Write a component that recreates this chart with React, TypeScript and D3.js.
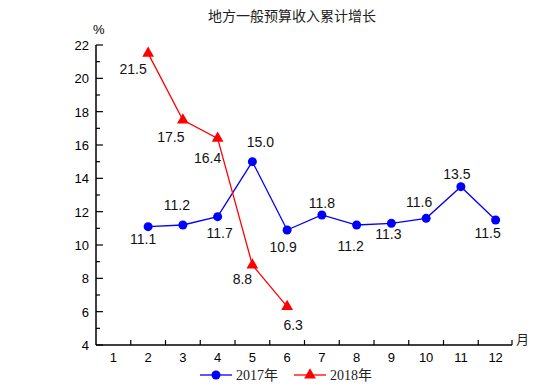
import React, { useRef, useEffect } from "react";
import * as d3 from "d3";

const months = ["1", "2", "3", "4", "5", "6", "7", "8", "9", "10", "11", "12"];
const months2017 = ["2", "3", "4", "5", "6", "7", "8", "9", "10", "11", "12"];
const values2017 = [11.1, 11.2, 11.7, 15.0, 10.9, 11.8, 11.2, 11.3, 11.6, 13.5, 11.5];
const months2018 = ["2", "3", "4", "5", "6"];
const values2018 = [21.5, 17.5, 16.4, 8.8, 6.3];
const yTicks = [4, 6, 8, 10, 12, 14, 16, 18, 20, 22];

// label offsets (dx, dy) relative to each point, as in the original figure
const offsets2017 = [[-5, 12], [-6, -20], [2, 16], [8, -20], [-4, 17], [0, -12], [-6, 21], [-3, 11], [-7, -16], [-4, -13], [-8, 13]];
const offsets2018 = [[-15, 16], [-12, 17], [-10, 20], [-10, 14], [6, 18]];

export default function App() {
  const svgRef = useRef<SVGSVGElement>(null);

  useEffect(() => {
    const svg = d3.select(svgRef.current);
    svg.selectAll("*").remove();

    const left = 96, right = 513, top = 45, bottom = 345;
    const x = d3.scaleBand().domain(months).range([left, right]);
    const y = d3.scaleLinear().domain([4, 22]).range([bottom, top]);
    const cx = (m: string) => (x(m) as number) + x.bandwidth() / 2;

    // title
    svg.append("text")
      .attr("x", 292).attr("y", 21)
      .attr("text-anchor", "middle")
      .attr("font-family", "Noto Sans CJK SC")
      .attr("font-size", 14)
      .attr("fill", "#222")
      .text("地方一般预算收入累计增长");

    // y axis
    const g = svg.append("g");
    g.append("line").attr("x1", left).attr("x2", left).attr("y1", top).attr("y2", bottom)
      .attr("stroke", "#000").attr("stroke-width", 1.5);
    d3.range(4, 23, 1).forEach((v) => {
      const major = v % 2 === 0;
      g.append("line").attr("x1", left).attr("x2", left + (major ? 7 : 4))
        .attr("y1", y(v)).attr("y2", y(v)).attr("stroke", "#000").attr("stroke-width", 1.2);
    });
    g.selectAll(".yl").data(yTicks).enter().append("text")
      .attr("x", left - 7).attr("y", (d) => y(d) + 5)
      .attr("text-anchor", "end")
      .attr("font-family", "Liberation Sans, Arial")
      .attr("font-size", 13)
      .text((d) => d);
    g.append("text").attr("x", 93).attr("y", 34)
      .attr("font-family", "Liberation Sans, Arial").attr("font-size", 13).text("%");

    // x axis
    g.append("line").attr("x1", left).attr("x2", right - 1).attr("y1", bottom).attr("y2", bottom)
      .attr("stroke", "#000").attr("stroke-width", 1.5);
    months.slice(1).forEach((m) => {
      g.append("line").attr("x1", x(m) as number).attr("x2", x(m) as number)
        .attr("y1", bottom).attr("y2", bottom - 5).attr("stroke", "#000").attr("stroke-width", 1.2);
    });
    g.append("line").attr("x1", right - 1).attr("x2", right - 1)
      .attr("y1", bottom).attr("y2", bottom - 5).attr("stroke", "#000").attr("stroke-width", 1.2);
    g.selectAll(".xl").data(months).enter().append("text")
      .attr("x", (d) => cx(d)).attr("y", bottom + 17)
      .attr("text-anchor", "middle")
      .attr("font-family", "Liberation Sans, Arial")
      .attr("font-size", 13)
      .text((d) => d);
    g.append("text").attr("x", 516).attr("y", 344)
      .attr("font-family", "Noto Sans CJK SC").attr("font-size", 13).attr("fill", "#222").text("月");

    const line = d3.line<[string, number]>().x((d) => cx(d[0])).y((d) => y(d[1]));
    const tri = d3.symbol().type(d3.symbolTriangle).size(60);

    // 2017 series
    const d17 = months2017.map((m, i) => [m, values2017[i]] as [string, number]);
    svg.append("path").attr("d", line(d17)).attr("fill", "none").attr("stroke", "#0000ff").attr("stroke-width", 1.3);
    svg.selectAll(".p17").data(d17).enter().append("circle")
      .attr("cx", (d) => cx(d[0])).attr("cy", (d) => y(d[1])).attr("r", 4.5).attr("fill", "#0000ff");

    // 2018 series
    const d18 = months2018.map((m, i) => [m, values2018[i]] as [string, number]);
    svg.append("path").attr("d", line(d18)).attr("fill", "none").attr("stroke", "#ff0000").attr("stroke-width", 1.3);
    svg.selectAll(".p18").data(d18).enter().append("path")
      .attr("d", tri).attr("transform", (d) => `translate(${cx(d[0])},${y(d[1])})`).attr("fill", "#ff0000");

    // value labels
    const addLabels = (data: [string, number][], offs: number[][]) => {
      svg.append("g").selectAll("text").data(data).enter().append("text")
        .attr("x", (d, i) => cx(d[0]) + offs[i][0])
        .attr("y", (d, i) => y(d[1]) + offs[i][1] + 5)
        .attr("text-anchor", "middle")
        .attr("font-family", "Liberation Sans, Arial")
        .attr("font-size", 14)
        .attr("fill", "#111")
        .text((d) => d[1].toFixed(1));
    };
    addLabels(d17, offsets2017);
    addLabels(d18, offsets2018);

    // legend
    const legendFont = "Liberation Serif, Noto Sans CJK SC";
    const lg = svg.append("g");
    lg.append("line").attr("x1", 200).attr("x2", 232).attr("y1", 375).attr("y2", 375).attr("stroke", "#0000ff").attr("stroke-width", 1.3);
    lg.append("circle").attr("cx", 216).attr("cy", 375).attr("r", 4.5).attr("fill", "#0000ff");
    lg.append("text").attr("x", 236).attr("y", 380).attr("font-family", legendFont).attr("font-size", 14).attr("fill", "#222").text("2017年");
    lg.append("line").attr("x1", 294).attr("x2", 326).attr("y1", 375).attr("y2", 375).attr("stroke", "#ff0000").attr("stroke-width", 1.3);
    lg.append("path").attr("d", tri).attr("transform", "translate(310,375)").attr("fill", "#ff0000");
    lg.append("text").attr("x", 330).attr("y", 380).attr("font-family", legendFont).attr("font-size", 14).attr("fill", "#222").text("2018年");
  }, []);

  return (
    <svg ref={svgRef} width={555} height={391} style={{ position: "absolute", left: 0, top: 0, background: "#fff" }}></svg>
  );
}
